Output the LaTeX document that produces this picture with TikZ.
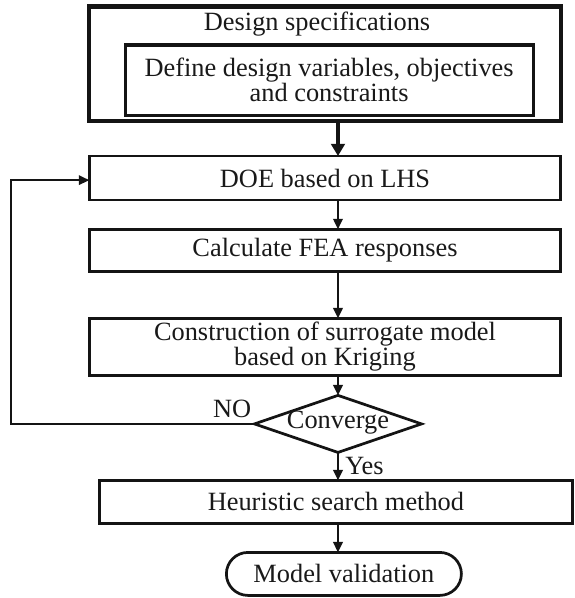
\documentclass[tikz,border=0pt]{standalone}
\usepackage{fontspec}
\setmainfont{Liberation Serif}
\usepackage{tikz}
\usetikzlibrary{
  shapes.geometric,
  shapes.misc,
  arrows.meta,
  positioning
}
\definecolor{linecolor}{RGB}{20, 20, 20}
\definecolor{textcolor}{RGB}{25, 25, 25}
\tikzset{
blocktext/.style={
  align=center,
  font=\fontsize{11.6}{11}\selectfont,
  text=textcolor
},
specblock/.style={
  draw=linecolor,
  line width=1.8pt,
  minimum width=207.5pt,
  minimum height=50.4pt,
  inner sep=0pt,
  outer sep=0pt
},
innerblock/.style={
  draw=linecolor,
  line width=1.4pt,
  minimum width=179.5pt,
  minimum height=31pt,
  inner sep=0pt,
  outer sep=0pt,
  blocktext
},
block/.style={
  draw=linecolor,
  line width=1.2pt,
  minimum width=207.5pt,
  minimum height=19pt,
  inner sep=0pt,
  outer sep=0pt,
  blocktext
},
decision/.style={
  diamond,
  draw=linecolor,
  line width=1.2pt,
  aspect=2.94,
  inner sep=0pt,
  outer sep=0pt,
  minimum width=73.5pt,
  minimum height=25.1pt,
  text height=6pt,
  text depth=2pt,
  blocktext
},
terminal/.style={
  rounded rectangle,
  draw=linecolor,
  line width=1.2pt,
  minimum width=103.4pt,
  minimum height=18.9pt,
  inner sep=0pt,
  outer sep=0pt,
  blocktext
},
edgelabel/.style={
  inner sep=0pt,
  blocktext
},
arrow/.style={
  -{Triangle[length=4.6pt,width=4.2pt]},
  line width=0.9pt,
  draw=linecolor
},
thickarrow/.style={
  -{Triangle[length=5.4pt,width=6pt]},
  line width=1.6pt,
  draw=linecolor
}
}

\begin{document}
\begin{tikzpicture}
      \useasboundingbox (0,0) rectangle (252.6pt,-263.1pt);

      % Specification block with nested definition box
      \node[specblock] (spec) at (143pt,-28.05pt) {};
      \node[blocktext] (spectitle) at ([xshift=-3.5pt,yshift=-7.6pt]spec.north)
        {Design specifications};
      \node[innerblock, below=16.95pt of spec.north, xshift=1.8pt] (define)
        {Define design variables, objectives\\and constraints};

      % Main flow
      \node[block, below=15.4pt of spec, minimum height=19.4pt] (doe)
        {DOE based on LHS};
      \node[block, below=12.8pt of doe, minimum height=18.5pt] (calc)
        {Calculate FEA responses};
      \node[block, below=20.7pt of calc, minimum height=25.1pt] (surrogate)
        {Construction of surrogate model\\based on Kriging};
      \node[decision, below=8.8pt of surrogate, xshift=5.7pt] (conv)
        {Converge};
      \node[block, below=12.3pt of conv, xshift=-0.9pt, minimum width=208.1pt,
        minimum height=18.9pt] (search)
        {Heuristic search method};
      \node[terminal, below=12.8pt of search, xshift=3.5pt] (valid)
        {Model validation};

      \draw[thickarrow] (conv.north |- spec.south) -- (conv.north |- doe.north);
      \draw[arrow] (conv.north |- doe.south) -- (conv.north |- calc.north);
      \draw[arrow] (conv.north |- calc.south) -- (conv.north |- surrogate.north);
      \draw[arrow] (conv.north |- surrogate.south) -- (conv.north);
      \draw[arrow] (conv.south) -- (conv.south |- search.north);
      \draw[arrow] (conv.south |- search.south) -- (conv.south |- valid.north);

      % Loop back when not converged
      \coordinate (back) at ([xshift=-34.3pt,yshift=-0.9pt]doe.west);
      \draw[arrow] (conv.west) -| (back) -- (back -| doe.west);

      \node[edgelabel, above left=2.6pt and 1.2pt of conv.west] (no) {NO};
      \node[edgelabel, below right=1.8pt and 3pt of conv.south] (yes) {Yes};
    \end{tikzpicture}
\end{document}
